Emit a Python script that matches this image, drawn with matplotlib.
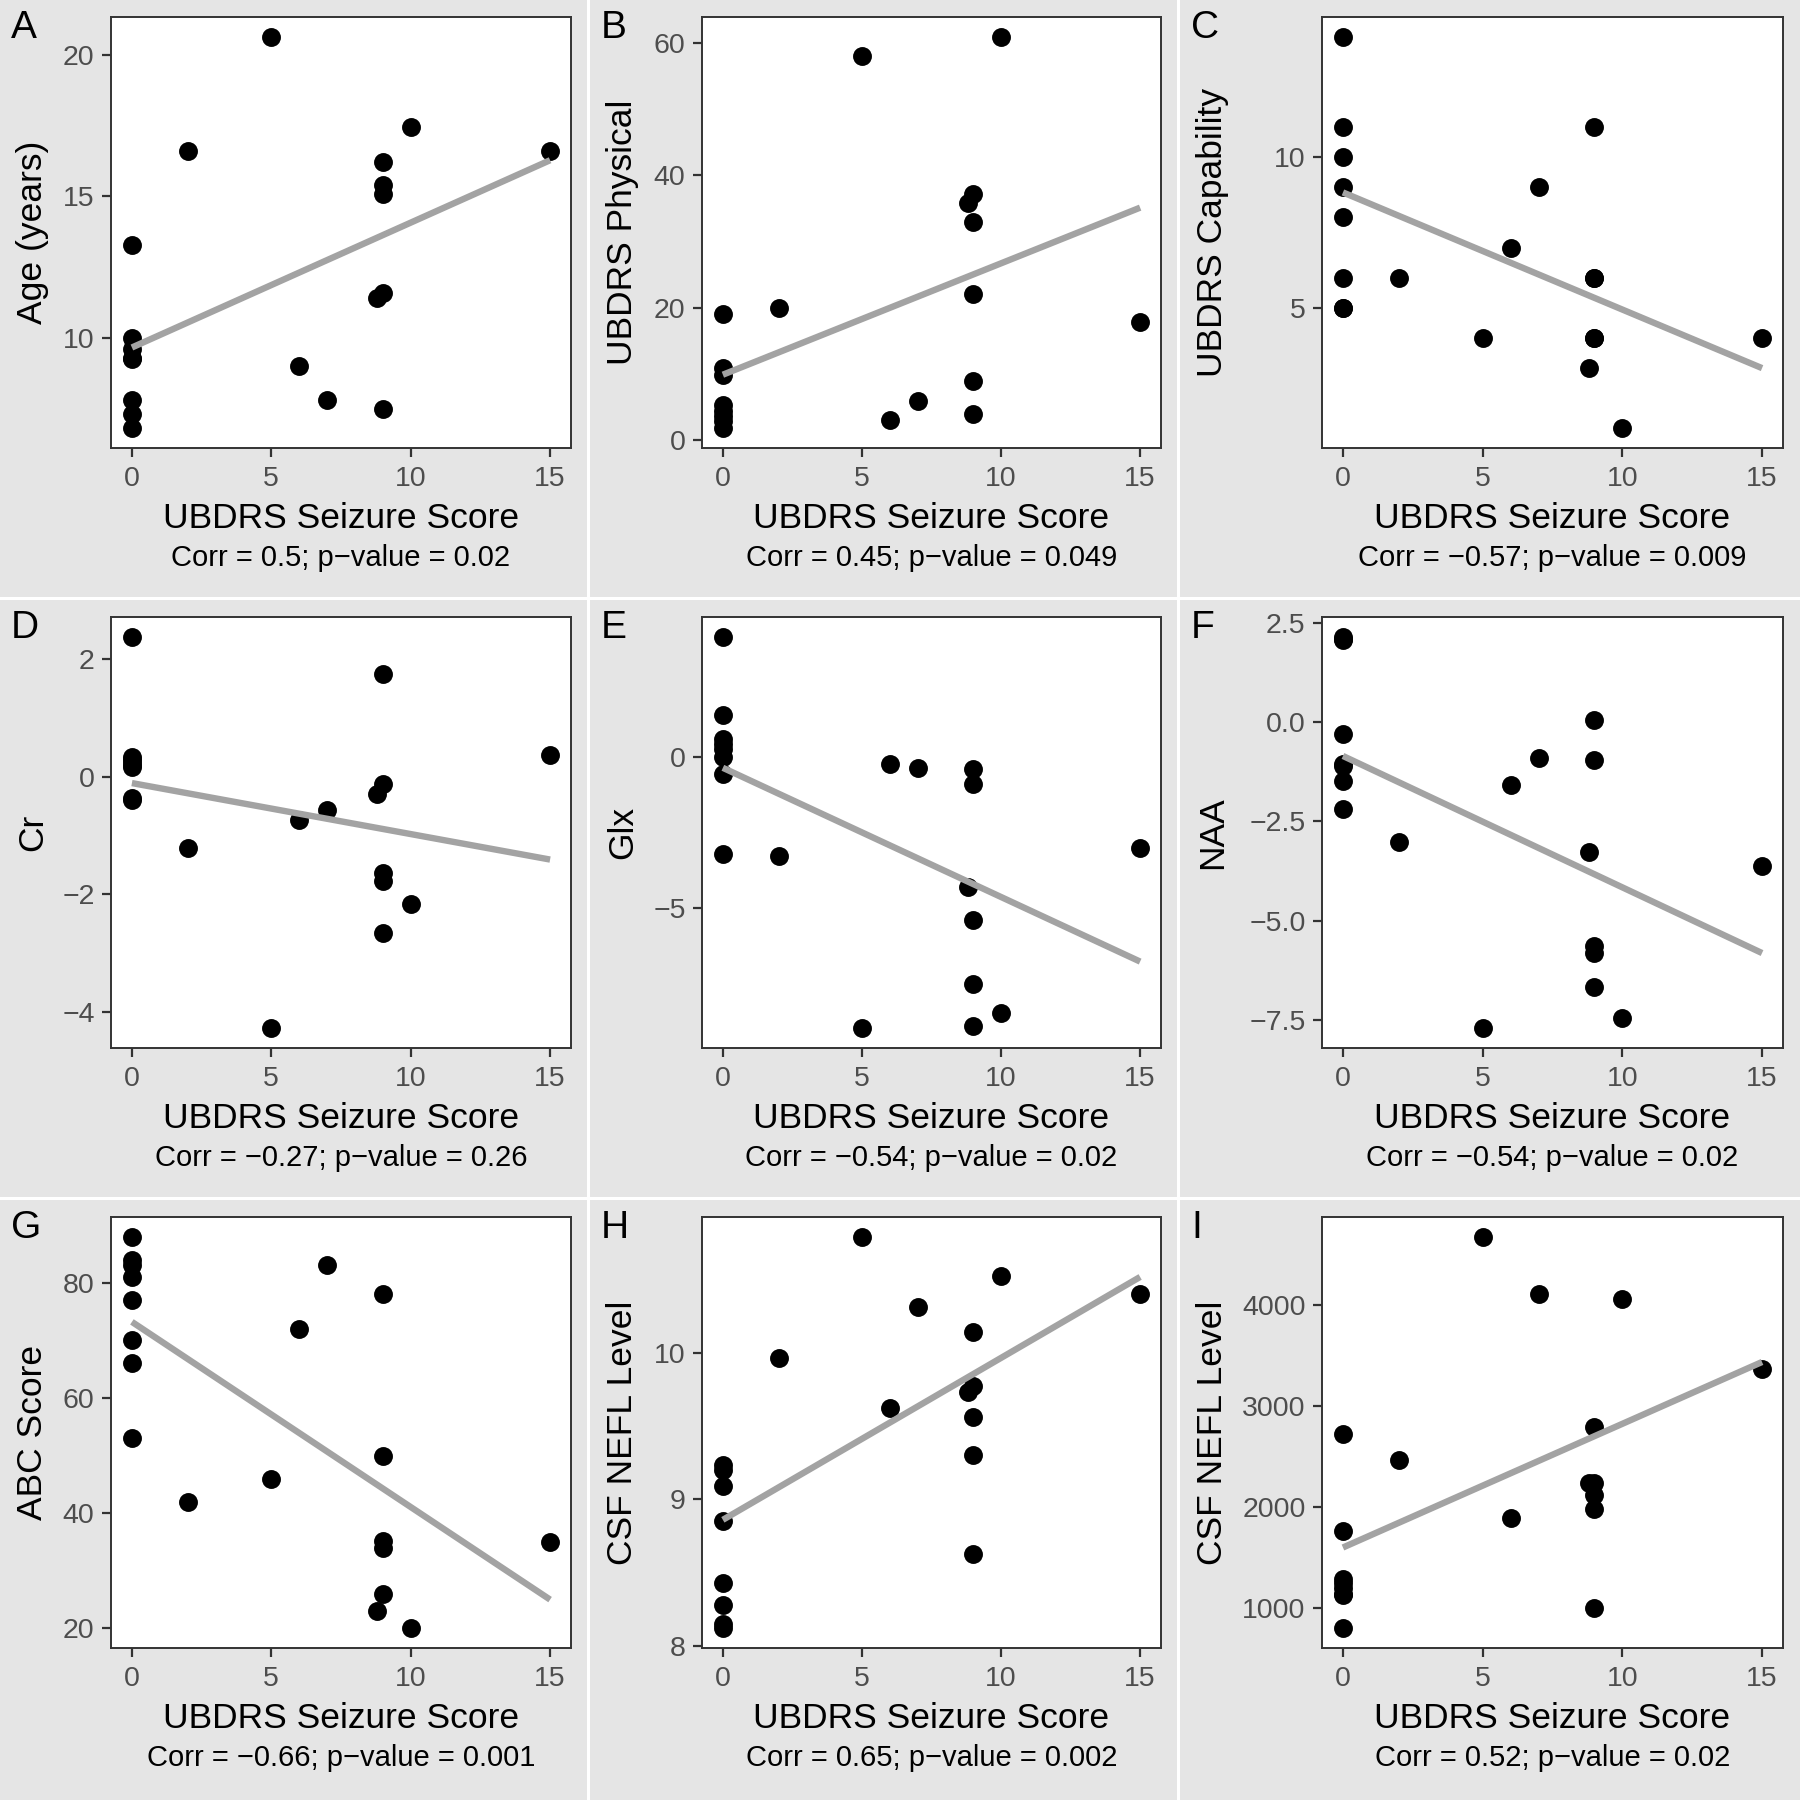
import matplotlib
matplotlib.use("Agg")
import matplotlib.pyplot as plt
from matplotlib.patches import Rectangle
from matplotlib.ticker import FuncFormatter

plt.rcParams['font.family'] = ['Liberation Sans', 'DejaVu Sans']

# ---------------- data ----------------
seizure_score = [0, 0, 0, 0, 0, 0, 0, 0, 2, 5, 6, 7, 8.8, 9, 9, 9, 9, 9, 10, 15]

age_years = [13.3, 10.0, 9.6, 9.3, 9.25, 7.8, 7.3, 6.8,
             16.6, 20.65, 9.0, 7.8, 11.4, 16.2, 15.4, 15.1, 11.6, 7.5, 17.45, 16.6]
ubdrs_physical = [19.0, 10.9, 9.8, 5.3, 4.5, 3.7, 2.9, 1.8,
                  20.0, 57.9, 3.0, 6.0, 35.8, 37.2, 32.9, 22.0, 9.0, 3.9, 60.9, 17.9]
ubdrs_capability = [14, 11, 10, 9, 8, 6, 5, 5,
                    6, 4, 7, 9, 3, 11, 6, 4, 6, 4, 1, 4]
cr_values = [2.38, 0.33, 0.25, 0.17, 0.30, 0.20, -0.37, -0.40,
             -1.22, -4.28, -0.73, -0.57, -0.29, 1.74, -0.13, -1.64, -1.78, -2.65, -2.16, 0.36]
glx_values = [3.95, 1.36, 0.58, 0.42, 0.25, -0.03, -0.59, -3.22,
              -3.27, -8.95, -0.26, -0.39, -4.29, -0.42, -0.89, -5.38, -7.49, -8.87, -8.43, -3.01]
naa_values = [2.16, 2.07, 2.10, -0.29, -1.05, -1.11, -1.48, -2.18,
              -3.03, -7.72, -1.58, -0.91, -3.27, 0.05, -0.95, -5.63, -5.82, -6.67, -7.47, -3.63]
abc_score = [88, 84, 83, 81, 77, 70, 66, 53,
             41.9, 45.9, 72, 83, 23, 78, 50, 35.2, 34, 26, 20, 35]
csf_nefl_log = [9.235, 9.20, 9.09, 8.85, 8.43, 8.28, 8.15, 8.12,
                9.96, 10.79, 9.62, 10.31, 9.73, 10.14, 9.77, 9.56, 9.30, 8.63, 10.52, 10.40]
csf_nefl = [2723, 1765, 1280, 1250, 1200, 1140, 1130, 795,
            2469, 4679, 1894, 4110, 2234, 2795, 2241, 2120, 1981, 1000, 4061, 3364]

# fitted line values read at seizure score 0 and 15
fit_x = [0, 15]
fit_A = [9.66, 16.28]
fit_B = [9.9, 35.1]
fit_C = [8.83, 3.0]
fit_D = [-0.11, -1.41]
fit_E = [-0.37, -6.75]
fit_F = [-0.85, -5.82]
fit_G = [73.2, 25.0]
fit_H = [8.86, 10.515]
fit_I = [1597, 3436]

panel_letters = ["A", "B", "C", "D", "E", "F", "G", "H", "I"]
y_labels = ["Age (years)", "UBDRS Physical", "UBDRS Capability", "Cr", "Glx", "NAA",
            "ABC Score", "CSF NEFL Level", "CSF NEFL Level"]
x_label = "UBDRS Seizure Score"
corr_texts = ["Corr = 0.5; p\u2212value = 0.02",
              "Corr = 0.45; p\u2212value = 0.049",
              "Corr = \u22120.57; p\u2212value = 0.009",
              "Corr = \u22120.27; p\u2212value = 0.26",
              "Corr = \u22120.54; p\u2212value = 0.02",
              "Corr = \u22120.54; p\u2212value = 0.02",
              "Corr = \u22120.66; p\u2212value = 0.001",
              "Corr = 0.65; p\u2212value = 0.002",
              "Corr = 0.52; p\u2212value = 0.02"]
x_ticks = [0, 5, 10, 15]
y_ticks_A = [10, 15, 20]
y_ticks_B = [0, 20, 40, 60]
y_ticks_C = [5, 10]
y_ticks_D = [-4, -2, 0, 2]
y_ticks_E = [-5, 0]
y_ticks_F = [-7.5, -5.0, -2.5, 0.0, 2.5]
y_ticks_G = [20, 40, 60, 80]
y_ticks_H = [8, 9, 10]
y_ticks_I = [1000, 2000, 3000, 4000]
y_tick_decimals = [0, 0, 0, 0, 0, 1, 0, 0, 0]

y_series = [age_years, ubdrs_physical, ubdrs_capability, cr_values, glx_values,
            naa_values, abc_score, csf_nefl_log, csf_nefl]
fits = [fit_A, fit_B, fit_C, fit_D, fit_E, fit_F, fit_G, fit_H, fit_I]
y_ticks = [y_ticks_A, y_ticks_B, y_ticks_C, y_ticks_D, y_ticks_E, y_ticks_F,
           y_ticks_G, y_ticks_H, y_ticks_I]

# ---------------- layout (pixels) ----------------
W = H = 1800
BG = "#E5E5E5"
col_origin = [0, 590, 1180]
col_extent = [(0, 587), (590, 1177), (1180, 1800)]
row_origin = [0, 600, 1200]
row_extent = [(0, 597), (600, 1197), (1200, 1800)]
plot_left = [111, 702, 1322]
plot_right = [571, 1161, 1783]
plot_top = [17, 617, 1217]
plot_bottom = [448, 1048, 1648]

fig = plt.figure(figsize=(18, 18), dpi=100)
fig.patch.set_facecolor("white")


def fx(px):
    return px / W


def fy(py):
    return 1 - py / H


for r in range(3):
    for c in range(3):
        x0, x1 = col_extent[c]
        y0, y1 = row_extent[r]
        fig.patches.append(Rectangle((fx(x0), fy(y1)), (x1 - x0) / W, (y1 - y0) / H,
                                     transform=fig.transFigure, facecolor=BG,
                                     edgecolor="none", zorder=-5))

for i in range(9):
    r, c = divmod(i, 3)
    l, rr = plot_left[c], plot_right[c]
    t, b = plot_top[r], plot_bottom[r]
    ax = fig.add_axes([fx(l), fy(b), (rr - l) / W, (b - t) / H])
    ax.set_zorder(1)
    ax.set_facecolor("white")
    ax.scatter(seizure_score, y_series[i], s=185, color="black", zorder=2,
               linewidths=0)
    ax.plot(fit_x, fits[i], color="#A3A3A3", lw=4.6, solid_capstyle="butt", zorder=3)
    ax.margins(0.05)
    ax.set_xticks(x_ticks)
    ax.set_yticks(y_ticks[i])
    dec = y_tick_decimals[i]
    ax.yaxis.set_major_formatter(
        FuncFormatter(lambda v, p, d=dec: (f"{v:.{d}f}").replace("-", "\u2212")))
    for sp in ax.spines.values():
        sp.set_color("#333333")
        sp.set_linewidth(1.4)
    ax.tick_params(axis="both", which="major", length=6.8, width=1.6,
                   color="#333333", labelcolor="#4D4D4D", labelsize=20.5)
    ax.tick_params(axis="x", pad=6)
    ax.tick_params(axis="y", pad=5)

    ox, oy = col_origin[c], row_origin[r]
    fig.text(fx(ox + 11), fy(oy + 38), panel_letters[i], fontsize=28,
             ha="left", va="baseline", color="black")
    cx = (l + rr) / 2
    fig.text(fx(cx), fy(oy + 528), x_label, fontsize=25.5, ha="center",
             va="baseline", color="black")
    fig.text(fx(cx), fy(oy + 566), corr_texts[i], fontsize=21, ha="center",
             va="baseline", color="black")
    cy = (t + b) / 2
    fig.text(fx(ox + 42), fy(cy), y_labels[i], fontsize=25.5, rotation=90,
             rotation_mode="anchor", ha="center", va="baseline", color="black")

fig.savefig("out.png", dpi=100, facecolor="white")
